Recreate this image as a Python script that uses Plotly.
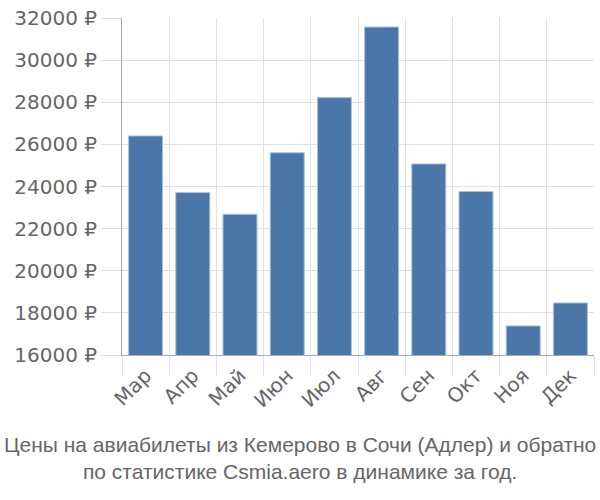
import plotly.graph_objects as go

months = ["Мар", "Апр", "Май", "Июн", "Июл", "Авг", "Сен", "Окт", "Ноя", "Дек"]
prices = [26400, 23710, 22680, 25600, 28220, 31570, 25070, 23760, 17380, 18470]
y_ticks = [16000, 18000, 20000, 22000, 24000, 26000, 28000, 30000, 32000]
y_tick_text = [f"{v} ₽" for v in y_ticks]
title_lines = ["Цены на авиабилеты из Кемерово в Сочи (Адлер) и обратно",
               "по статистике Csmia.aero в динамике за год."]

fig = go.Figure(go.Bar(
    x=months, y=prices,
    marker=dict(color="#4a76a8", line=dict(color="#a9bfdc", width=1)),
))

fig.update_layout(
    width=600, height=500,
    margin=dict(l=122, r=6, t=14, b=145),
    paper_bgcolor="white", plot_bgcolor="white",
    bargap=0.28,
    showlegend=False,
    font=dict(family="Liberation Sans, Arial, sans-serif", color="#666666"),
    annotations=[dict(
        text="<br>".join(title_lines), xref="paper", yref="paper",
        x=(300 - 122) / 472, y=0, yshift=-76, xanchor="center", yanchor="top",
        showarrow=False,
        font=dict(size=21, color="#666666", family="Liberation Sans, Arial, sans-serif"),
    )],
)
fig.update_yaxes(
    range=[16000, 32000], tickvals=y_ticks, ticktext=y_tick_text,
    showgrid=True, gridcolor="#e0e0e0", gridwidth=1,
    ticks="outside", ticklen=20, tickcolor="#e0e0e0",
    showline=True, linecolor="#aaaaaa", linewidth=1,
    tickfont=dict(size=20, color="#666666", family="DejaVu Sans, sans-serif"),
    zeroline=False,
)
fig.update_xaxes(
    tickson="boundaries", tickangle=-45,
    showgrid=True, gridcolor="#e0e0e0", gridwidth=1,
    ticks="outside", ticklen=20, tickcolor="#e0e0e0",
    showline=True, linecolor="#aaaaaa", linewidth=1,
    tickfont=dict(size=20, color="#666666", family="DejaVu Sans, sans-serif"),
)

fig.write_html("out.html")
